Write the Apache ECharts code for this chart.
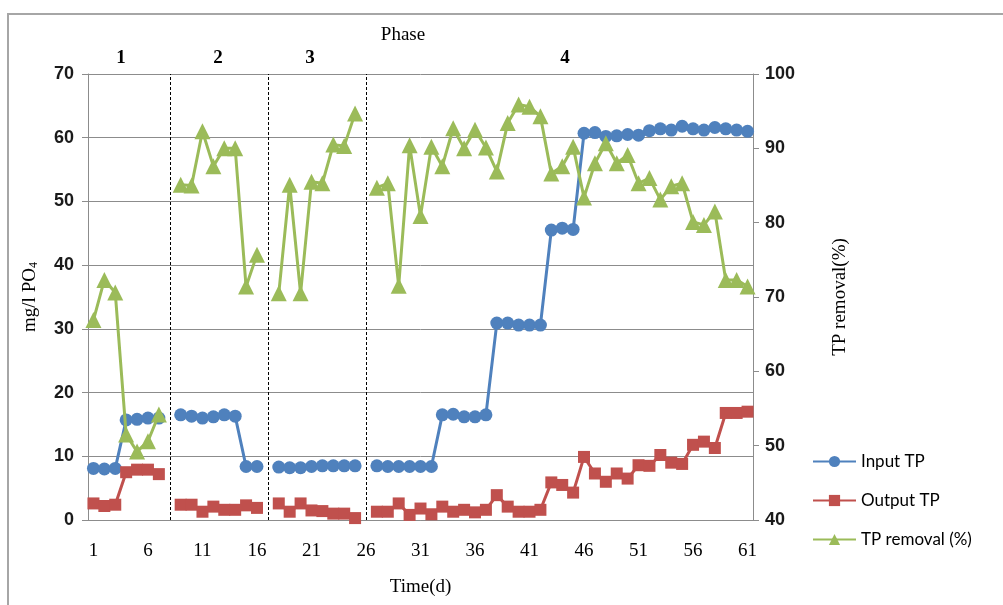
<!DOCTYPE html>
<html>
<head>
<meta charset="utf-8">
<script src="https://cdn.jsdelivr.net/npm/echarts@6/dist/echarts.min.js"></script>
<style>
  html, body { margin: 0; padding: 0; background: #fff; }
  #chart { width: 1003px; height: 605px; }
</style>
</head>
<body>
<div id="chart"></div>
<script>
// Days 1..61; null marks the changeover day between phases
const days = Array.from({ length: 61 }, (_, i) => String(i + 1));

const inputTP = [
  8.1, 8.0, 8.1, 15.7, 15.8, 16.0, 16.0, null,
  16.5, 16.3, 16.0, 16.2, 16.5, 16.3, 8.4, 8.4, null,
  8.3, 8.2, 8.2, 8.4, 8.5, 8.5, 8.5, 8.5, null,
  8.5, 8.4, 8.4, 8.4, 8.4, 8.4, 16.5, 16.6, 16.2, 16.2, 16.5,
  30.9, 30.9, 30.6, 30.6, 30.6, 45.5, 45.8, 45.6,
  60.7, 60.8, 60.2, 60.3, 60.5, 60.4, 61.1, 61.4, 61.2, 61.8,
  61.4, 61.2, 61.6, 61.4, 61.2, 61.0
];

const outputTP = [
  2.6, 2.2, 2.4, 7.5, 7.9, 7.9, 7.2, null,
  2.4, 2.4, 1.3, 2.1, 1.6, 1.6, 2.3, 1.9, null,
  2.6, 1.3, 2.6, 1.5, 1.4, 1.0, 1.0, 0.3, null,
  1.3, 1.3, 2.6, 0.8, 1.8, 0.9, 2.1, 1.3, 1.6, 1.2, 1.6,
  3.9, 2.1, 1.3, 1.3, 1.6, 5.9, 5.5, 4.3,
  9.9, 7.3, 6.0, 7.3, 6.5, 8.6, 8.5, 10.2, 9.0, 8.8,
  11.8, 12.3, 11.3, 16.8, 16.8, 17.0
];

const removal = [
  66.9, 72.3, 70.6, 51.5, 49.2, 50.6, 54.2, null,
  85.1, 85.0, 92.3, 87.6, 90.0, 90.0, 71.4, 75.7, null,
  70.5, 85.1, 70.5, 85.5, 85.3, 90.5, 90.3, 94.7, null,
  84.7, 85.3, 71.5, 90.4, 80.9, 90.2, 87.6, 92.7, 90.0, 92.5, 90.1,
  86.9, 93.4, 95.9, 95.6, 94.3, 86.6, 87.6, 90.2,
  83.4, 88.0, 90.7, 88.0, 89.1, 85.3, 86.0, 83.1, 84.9, 85.3,
  80.1, 79.7, 81.5, 72.3, 72.3, 71.4
];

// Phase boundaries (days) and phase labels
const phaseBreaks = ['8', '17', '26'];
const phaseNames = ['1', '2', '3', '4'];

const serif = '"Liberation Serif", "Times New Roman", serif';
const sans = '"Liberation Sans", Arial, sans-serif';
const legendFont = 'Lato, "Open Sans", sans-serif';
const axisGray = '#8c8c8c';

const chart = echarts.init(document.getElementById('chart'), null, { renderer: 'canvas' });

const phaseX = [121, 218, 310, 565];

chart.setOption({
  animation: false,
  backgroundColor: '#ffffff',
  graphic: [
    {
      type: 'rect',
      shape: { x: 8, y: 14, width: 1200, height: 800 },
      style: { fill: 'none', stroke: '#a6a6a6', lineWidth: 2 },
      silent: true
    },
    {
      type: 'text', x: 403, y: 35,
      style: { text: 'Phase', font: '19px ' + serif, fill: '#000', align: 'center', verticalAlign: 'middle' }
    }
  ].concat(phaseNames.map((p, i) => ({
    type: 'text', x: phaseX[i], y: 58,
    style: { text: p, font: 'bold 19px ' + serif, fill: '#000', align: 'center', verticalAlign: 'middle' }
  }))),
  grid: { left: 88, right: 250, top: 74, bottom: 85, containLabel: false },
  legend: {
    orient: 'vertical',
    left: 807,
    top: 448,
    itemWidth: 43,
    itemHeight: 14,
    itemGap: 22,
    textStyle: { fontFamily: legendFont, fontSize: 17, color: '#000' },
    data: ['Input TP', 'Output TP', 'TP removal (%)']
  },
  xAxis: {
    type: 'category',
    data: days,
    boundaryGap: true,
    name: 'Time(d)',
    nameLocation: 'middle',
    nameGap: 58,
    nameTextStyle: { fontFamily: serif, fontSize: 19, color: '#000' },
    axisLine: { lineStyle: { color: axisGray, width: 1 } },
    axisTick: { interval: 0, length: 5, lineStyle: { color: axisGray } },
    axisLabel: {
      interval: 4, margin: 22,
      fontFamily: serif, fontSize: 19, color: '#000'
    },
    splitLine: { show: false }
  },
  yAxis: [
    {
      type: 'value',
      min: 0, max: 70, interval: 10,
      name: 'mg/l PO{sub|4}',
      nameLocation: 'middle',
      nameGap: 48,
      nameRotate: 90,
      nameTextStyle: {
        fontFamily: serif, fontSize: 19, color: '#000',
        rich: { sub: { fontFamily: serif, fontSize: 12, verticalAlign: 'bottom', padding: [8, 0, 0, 0] } }
      },
      axisLine: { show: true, lineStyle: { color: axisGray } },
      axisTick: { show: true, length: 6, lineStyle: { color: axisGray } },
      axisLabel: { margin: 14, fontFamily: sans, fontWeight: 'bold', fontSize: 18, color: '#1a1a1a' },
      splitLine: { lineStyle: { color: '#8c8c8c', width: 1 } }
    },
    {
      type: 'value',
      min: 40, max: 100, interval: 10,
      position: 'right',
      name: 'TP removal(%)',
      nameLocation: 'middle',
      nameGap: 78,
      nameRotate: 90,
      nameTextStyle: { fontFamily: serif, fontSize: 19, color: '#000' },
      axisLine: { show: true, lineStyle: { color: axisGray } },
      axisTick: { show: true, length: 6, lineStyle: { color: axisGray } },
      axisLabel: { margin: 12, fontFamily: sans, fontWeight: 'bold', fontSize: 18, color: '#1a1a1a' },
      splitLine: { show: false }
    }
  ],
  series: [
    {
      name: 'Input TP',
      type: 'line',
      data: inputTP,
      yAxisIndex: 0,
      symbol: 'circle',
      symbolSize: 13,
      showAllSymbol: true,
      connectNulls: false,
      itemStyle: { color: '#4f81bd' },
      lineStyle: { color: '#4f81bd', width: 3 },
      markLine: {
        silent: true,
        symbol: 'none',
        label: { show: false },
        lineStyle: { color: '#000', type: [3, 2], width: 1 },
        data: phaseBreaks.map(d => ({ xAxis: d }))
      },
      z: 3
    },
    {
      name: 'Output TP',
      type: 'line',
      data: outputTP,
      yAxisIndex: 0,
      symbol: 'rect',
      symbolSize: 12,
      showAllSymbol: true,
      connectNulls: false,
      itemStyle: { color: '#c0504d' },
      lineStyle: { color: '#c0504d', width: 3 },
      z: 4
    },
    {
      name: 'TP removal (%)',
      type: 'line',
      data: removal,
      yAxisIndex: 1,
      symbol: 'triangle',
      symbolSize: 16,
      showAllSymbol: true,
      connectNulls: false,
      itemStyle: { color: '#9bbb59' },
      lineStyle: { color: '#9bbb59', width: 3 },
      z: 5
    }
  ]
});
</script>
</body>
</html>
